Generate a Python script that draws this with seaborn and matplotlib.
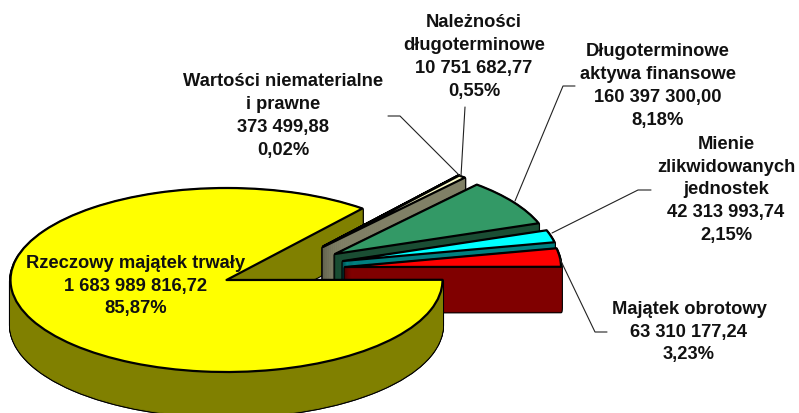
import matplotlib
matplotlib.use("Agg")
import matplotlib.pyplot as plt
import seaborn as sns

sns.set_theme(style="white")
plt.rcParams['font.family'] = ['Liberation Sans', 'DejaVu Sans']

names = ["Rzeczowy majątek trwały", "Majątek obrotowy", "Mienie\nzlikwidowanych\njednostek",
         "Długoterminowe\naktywa finansowe", "Należności\ndługoterminowe",
         "Wartości niematerialne\ni prawne"]
amounts = [1683989816.72, 63310177.24, 42313993.74, 160397300.00, 10751682.77, 373499.88]
amount_labels = ["1 683 989 816,72", "63 310 177,24", "42 313 993,74",
                 "160 397 300,00", "10 751 682,77", "373 499,88"]
percent_labels = ["85,87%", "3,23%", "2,15%", "8,18%", "0,55%", "0,02%"]

top_colors = ["#FFFF00", "#FF0000", "#00FFFF", "#339966", "#FFFFCC", "#FFFFCC"]
side_colors = ["#808000", "#800000", "#008080", "#1A4D33", "#808066", "#808066"]

# in pixels
WIDTH, HEIGHT = 799, 414
CX, CY, RX, RY = 226.5, 281, 216, 92
DEPTH = 45
EDGE = 1.6
apex_px = [(226.5, 281), (345, 268), (343, 262), (335, 255), (323, 248), (323, 247.5)]
label_px = [(136, 286), (689, 332), (726, 190), (658, 86), (474, 57), (283, 116)]
leaders_px = [
    [(607, 333), (595, 333), (560, 260)],
    [(651, 191), (638, 191), (552, 234)],
    [(575, 87), (563, 87), (515, 202)],
    [(465, 108), (461, 177)],
    [(388, 117), (400, 117), (460, 177)],
]


def to_data(x, y):
    return (x - CX) / RX, (CY - y) / RY


def draw_side(ax, frac, start, center, color, z):
    # a stack of the same slice going down, outlined first
    for step in range(DEPTH, 0, -1):
        off = step / RY
        for lw, ec, dz in [(EDGE + 0.6, "black", 0.0), (0.6, color, 0.3)]:
            w, _ = ax.pie([frac], normalize=False, startangle=start,
                          center=(center[0], center[1] - off), colors=[color],
                          wedgeprops=dict(lw=lw, edgecolor=ec))
            w[0].set_zorder(z + dz)
            w[0].set_joinstyle("round")


def draw_top(ax, frac, start, center, color, z):
    w, _ = ax.pie([frac], normalize=False, startangle=start, center=center, colors=[color],
                  wedgeprops=dict(lw=EDGE, edgecolor="black"))
    w[0].set_zorder(z)
    w[0].set_joinstyle("round")


fig, ax = plt.subplots(figsize=(WIDTH / 100, HEIGHT / 100), dpi=100)
fig.subplots_adjust(0, 0, 1, 1)

total = sum(amounts)
fracs = [v / total for v in amounts]
starts = []
angle = 51.0
for f in fracs:
    starts.append(angle)
    angle += f * 360

main_center = to_data(*apex_px[0])

# cut face of the big slice sits behind the pulled out slices
draw_side(ax, fracs[0], starts[0], main_center, side_colors[0], 0)

for rank, i in enumerate([5, 4, 3, 2, 1]):
    center = to_data(*apex_px[i])
    draw_side(ax, fracs[i], starts[i], center, side_colors[i], rank + 1)
    draw_top(ax, fracs[i], starts[i], center, top_colors[i], rank + 1.6)

# front half of the rim and the top go over them
draw_side(ax, 0.5, 180, main_center, side_colors[0], 7)
draw_top(ax, fracs[0], starts[0], main_center, top_colors[0], 8)

ax.set_aspect("auto")
ax.set_xlim(-CX / RX, (WIDTH - CX) / RX)
ax.set_ylim((CY - HEIGHT) / RY, CY / RY)

for pts in leaders_px:
    xs, ys = zip(*[to_data(*p) for p in pts])
    ax.plot(xs, ys, color="#222222", lw=0.8, zorder=20)

for i, (x, y) in enumerate(label_px):
    txt = names[i] + "\n" + amount_labels[i] + "\n" + percent_labels[i]
    px, py = to_data(x, y)
    ax.text(px, py, txt, ha="center", va="center", fontsize=13.2, fontweight="bold",
            color="#111111", linespacing=1.45, zorder=21)

fig.savefig("out.png", dpi=100)
